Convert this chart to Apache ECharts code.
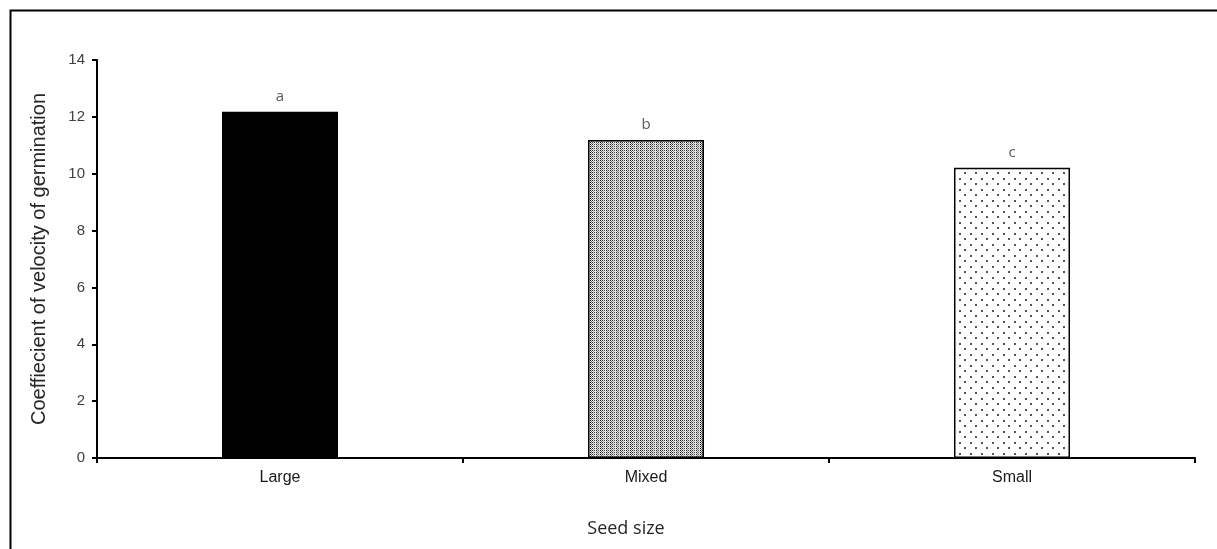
<!DOCTYPE html>
<html>
<head>
<meta charset="utf-8">
<script src="https://cdn.jsdelivr.net/npm/echarts@6/dist/echarts.min.js"></script>
<style>
html,body{margin:0;padding:0;background:#fff;}
#chart{width:1217px;height:549px;}
</style>
</head>
<body>
<div id="chart"></div>
<script>
const categories = ['Large', 'Mixed', 'Small'];
const values = [12.18, 11.19, 10.21];
const letters = ['a', 'b', 'c'];
const yTicks = [0, 2, 4, 6, 8, 10, 12, 14];

function mixedPattern() {
  const c = document.createElement('canvas');
  c.width = 10; c.height = 4;
  const g = c.getContext('2d');
  g.fillStyle = '#fff'; g.fillRect(0, 0, 10, 4);
  const shades = ['#111', '#666', '#333', '#aaa', '#444', '#ddd', '#222', '#777', '#555', '#bbb'];
  for (let x = 0; x < 10; x++) {
    g.fillStyle = shades[x];
    for (let y = (x % 2); y < 4; y += 2) g.fillRect(x, y, 1, 1);
    g.fillStyle = '#e8e8e8';
    for (let y = 1 - (x % 2); y < 4; y += 2) g.fillRect(x, y, 1, 1);
  }
  return c;
}
function smallPattern() {
  const c = document.createElement('canvas');
  c.width = 11; c.height = 11;
  const g = c.getContext('2d');
  g.fillStyle = '#fff'; g.fillRect(0, 0, 11, 11);
  g.fillStyle = '#555';
  g.fillRect(2, 2, 2, 2);
  g.fillRect(7, 7, 2, 2);
  return c;
}
const fills = ['#000', {image: mixedPattern(), repeat: 'repeat'}, {image: smallPattern(), repeat: 'repeat'}];

const chart = echarts.init(document.getElementById('chart'), null, {renderer: 'canvas'});
chart.setOption({
  animation: false,
  backgroundColor: '#fff',
  graphic: [{
    type: 'rect', left: 8, top: 8,
    shape: {width: 1230, height: 560},
    style: {fill: 'none', stroke: '#000', lineWidth: 2}
  }],
  grid: {left: 97, right: 22, top: 60, bottom: 91},
  xAxis: {
    type: 'category',
    data: categories,
    name: 'Seed size',
    nameLocation: 'middle',
    nameGap: 62,
    nameTextStyle: {fontFamily: 'Open Sans', fontSize: 18, color: '#262626', padding: [0, 40, 0, 0]},
    axisLine: {lineStyle: {color: '#000', width: 2}},
    axisTick: {show: true, alignWithLabel: false, length: 5, lineStyle: {color: '#000', width: 2}},
    axisLabel: {fontFamily: 'Liberation Sans', fontSize: 16, color: '#1a1a1a', margin: 12}
  },
  yAxis: {
    type: 'value',
    min: 0, max: 14, interval: 2,
    name: 'Coeffiecient of velocity of germination',
    nameLocation: 'middle',
    nameGap: 48,
    nameTextStyle: {fontFamily: 'Liberation Sans', fontSize: 20, color: '#262626'},
    splitLine: {show: false},
    axisLine: {show: true, lineStyle: {color: '#000', width: 2}},
    axisTick: {show: true, length: 5, lineStyle: {color: '#000', width: 2}},
    axisLabel: {fontFamily: 'Liberation Sans', fontSize: 15, color: '#404040', margin: 12,
      formatter: v => yTicks.includes(v) ? String(v) : ''}
  },
  series: [{
    type: 'bar',
    data: values.map((v, i) => ({value: v, itemStyle: {color: fills[i]}})),
    barWidth: '31.7%',
    itemStyle: {borderColor: '#000', borderWidth: 1.5},
    label: {
      show: true, position: 'top', distance: 8,
      fontFamily: 'Open Sans', fontSize: 15, color: '#595959',
      formatter: p => letters[p.dataIndex]
    }
  }]
});
</script>
</body>
</html>
